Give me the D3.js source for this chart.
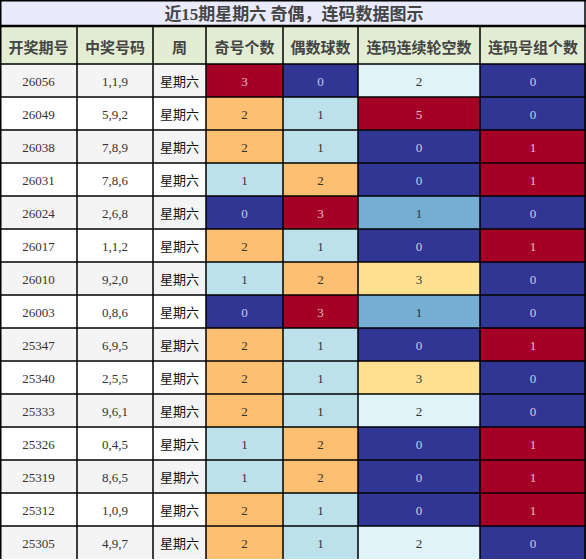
<!DOCTYPE html>
<html lang="zh">
<head>
<meta charset="utf-8">
<title>近15期星期六 奇偶，连码数据图示</title>
<script src="https://d3js.org/d3.v7.min.js"></script>
<style>
  body { margin: 0; background: #fff; }
  svg text { font-family: "Liberation Serif", "Noto Sans CJK SC", serif; }
</style>
</head>
<body>
<div id="chart"></div>
<script>
// table data
var title = "近15期星期六 奇偶，连码数据图示";
var headers = ["开奖期号", "中奖号码", "周", "奇号个数", "偶数球数", "连码连续轮空数", "连码号组个数"];
var periods = ["26056","26049","26038","26031","26024","26017","26010","26003","25347","25340","25333","25326","25319","25312","25305"];
var numbers = ["1,1,9","5,9,2","7,8,9","7,8,6","2,6,8","1,1,2","9,2,0","0,8,6","6,9,5","2,5,5","9,6,1","0,4,5","8,6,5","1,0,9","4,9,7"];
var weekday = "星期六";
var oddCount  = [3,2,2,1,0,2,1,0,2,2,2,1,1,2,2];
var evenCount = [0,1,1,2,3,1,2,3,1,1,1,2,2,1,1];
var gapCount  = [2,5,0,0,1,0,3,1,0,3,2,0,0,0,2];
var groupCount = [0,0,1,1,0,1,0,0,1,0,0,1,1,1,0];

// low -> high colours (blue .. red)
var palette = ["#313695","#4575b4","#75aed2","#bde1eb","#e0f3f8","#ffffbf","#fee090","#fdbf71","#f46d43","#d73027","#a50026"];

var width = 586, height = 560;
var titleH = 26, headH = 38, rowH = 33;
var colEdges = [0, 77, 153, 206, 283, 358, 480, 586];

var svg = d3.select("#chart").append("svg")
    .attr("width", width)
    .attr("height", height);

var x = d3.scaleOrdinal().domain(d3.range(7)).range(colEdges.slice(0, 7));
var y = d3.scaleBand()
    .domain(d3.range(periods.length))
    .range([titleH + headH, titleH + headH + rowH * periods.length]);

function colW(i) { return colEdges[i + 1] - colEdges[i]; }

// title
svg.append("rect")
    .attr("x", 0.5).attr("y", 0.5)
    .attr("width", width - 1.5).attr("height", titleH)
    .attr("fill", "#e9ebfb");
svg.append("text")
    .attr("x", width / 2 + 1).attr("y", titleH / 2 + 1)
    .attr("text-anchor", "middle").attr("dominant-baseline", "central")
    .attr("font-size", 17).attr("font-weight", "bold").attr("fill", "#444")
    .text(title);

// header
var head = svg.selectAll("g.head").data(headers).enter().append("g").attr("class", "head");
head.append("rect")
    .attr("x", function(d, i) { return x(i); })
    .attr("y", titleH)
    .attr("width", function(d, i) { return colW(i); })
    .attr("height", headH)
    .attr("fill", "#e3edd3");
head.append("text")
    .attr("x", function(d, i) { return x(i) + colW(i) / 2; })
    .attr("y", titleH + headH / 2 + 1)
    .attr("text-anchor", "middle").attr("dominant-baseline", "central")
    .attr("font-size", 15).attr("font-weight", "bold").attr("fill", "#444")
    .style("font-family", "'Noto Sans CJK SC', sans-serif")
    .text(function(d) { return d; });

// plain columns
var plain = [periods, numbers, periods.map(function() { return weekday; })];
plain.forEach(function(col, c) {
  var g = svg.append("g");
  g.selectAll("rect").data(col).enter().append("rect")
      .attr("x", x(c)).attr("y", function(d, i) { return y(i); })
      .attr("width", colW(c)).attr("height", rowH)
      .attr("fill", function(d, i) { return i % 2 === 0 ? "#f4f4f4" : "#ffffff"; });
  g.selectAll("text").data(col).enter().append("text")
      .attr("x", x(c) + colW(c) / 2)
      .attr("y", function(d, i) { return y(i) + rowH / 2 + 1; })
      .attr("text-anchor", "middle").attr("dominant-baseline", "central")
      .attr("font-size", 13)
      .attr("fill", c === 2 ? "#111" : "#333")
      .text(function(d) { return d; });
});

// coloured columns, each with its own low..high scale
var coloured = [oddCount, evenCount, gapCount, groupCount];
coloured.forEach(function(col, k) {
  var c = k + 3;
  var idx = d3.scaleLinear().domain(d3.extent(col)).range([0, palette.length - 1]);
  var fill = function(d) { return palette[Math.round(idx(d))]; };
  var dark = function(d) { var j = Math.round(idx(d)); return j <= 1 || j >= 9; };
  var g = svg.append("g");
  g.selectAll("rect").data(col).enter().append("rect")
      .attr("x", x(c)).attr("y", function(d, i) { return y(i); })
      .attr("width", colW(c)).attr("height", rowH)
      .attr("fill", fill);
  g.selectAll("text").data(col).enter().append("text")
      .attr("x", x(c) + colW(c) / 2)
      .attr("y", function(d, i) { return y(i) + rowH / 2 + 1; })
      .attr("text-anchor", "middle").attr("dominant-baseline", "central")
      .attr("font-size", 13)
      .attr("fill", function(d) { return dark(d) ? "rgba(255,255,255,0.75)" : "#333"; })
      .text(function(d) { return d; });
});

// grid lines
var grid = svg.append("g").attr("stroke", "#000").attr("stroke-width", 1.5);
var gridTop = titleH, gridBottom = y.range()[1];
grid.selectAll("line.v").data(colEdges.slice(1, 7)).enter().append("line")
    .attr("x1", function(d) { return d; }).attr("x2", function(d) { return d; })
    .attr("y1", gridTop).attr("y2", gridBottom);
grid.selectAll("line.h").data(d3.range(periods.length)).enter().append("line")
    .attr("x1", 0).attr("x2", width)
    .attr("y1", function(d) { return y(d); }).attr("y2", function(d) { return y(d); });
// outer frame
grid.append("line").attr("x1", 0.75).attr("x2", 0.75).attr("y1", 0).attr("y2", gridBottom);
grid.append("line").attr("x1", width - 1).attr("x2", width - 1).attr("y1", 0).attr("y2", gridBottom);
grid.append("line").attr("x1", 0).attr("x2", width).attr("y1", 0.75).attr("y2", 0.75);
grid.append("line").attr("x1", 0).attr("x2", width).attr("y1", titleH).attr("y2", titleH)
    .attr("stroke-width", 2.5);
</script>
</body>
</html>
